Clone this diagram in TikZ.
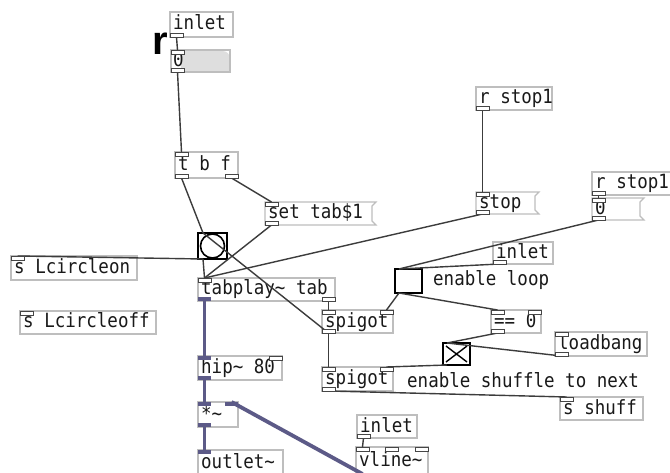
\documentclass[tikz,border=0pt]{standalone}
\usepackage{fontspec}
\newfontfamily\pdmono{DejaVu Sans Mono}
\newfontfamily\pdsans{Liberation Sans}
\usetikzlibrary{calc}
\definecolor{boxgray}{RGB}{190,190,190}
\definecolor{conngray}{RGB}{60,60,60}
\definecolor{sigcol}{RGB}{92,90,135}
\definecolor{nubgray}{RGB}{70,70,70}
\definecolor{numfill}{RGB}{222,222,222}
\newcommand\pdt[1]{\scalebox{1}[1.12]{#1}}
\tikzset{
  boxst/.style={draw=boxgray, line width=1.2pt, inner sep=0pt, outer sep=0pt},
  boxline/.style={draw=boxgray, line width=1.2pt},
  txt/.style={inner sep=0pt, font=\pdmono\fontsize{17.5}{20}\selectfont, text height=11pt, text depth=3pt, text=black!90},
  conn/.style={draw=conngray, line width=1.4pt},
  sig/.style={draw=sigcol, line width=3.8pt},
  nubc/.style={draw=nubgray, fill=white, line width=0.9pt},
  nubs/.style={fill=sigcol},
  tgl/.style={draw=black, line width=2pt, inner sep=0pt, outer sep=0pt},
}
\newcommand\pdbox[6]{%
  \node[boxst, minimum width=#4, minimum height=#5, anchor=north west] (#1) at (#2,#3) {};
  \node[txt, anchor=west] (#1-t) at ($(#1.west)+(3,1.5)$) {\pdt{#6}};}
\newcommand\pdmsg[6]{%
  \node[boxst, draw=none, minimum width=#4, minimum height=#5, anchor=north west] (#1) at (#2,#3) {};
  \draw[boxline] (#1.north west) -- ($(#1.north east)+(4,0)$) -- ($(#1.north east)+(0,4)$) -- ($(#1.south east)+(0,-4)$) -- ($(#1.south east)+(4,0)$) -- (#1.south west) -- cycle;
  \node[txt, anchor=west] (#1-t) at ($(#1.west)+(3,1.5)$) {\pdt{#6}};}
\newcommand\pin[3]{\coordinate (#1) at ($(#2)+(#3,0)$);}
\newcommand\nubI[2][nubc]{\path[#1] ($(#2)+(-6.5,0)$) rectangle ($(#2)+(6.5,4)$);}
\newcommand\nubO[2][nubc]{\path[#1] ($(#2)+(-6.5,-4)$) rectangle ($(#2)+(6.5,0)$);}
\begin{document}
\begin{tikzpicture}[x=1pt,y=-1pt]
\path[use as bounding box] (0,0) rectangle (670,473);
\fill[white] (0,0) rectangle (670,473);
\begin{scope}
\clip (0,0) rectangle (670,473);
% ---------- boxes ----------
\pdbox{A}{170}{12}{63}{25}{inlet}
% number box top
\node[boxst, draw=none, minimum width=59, minimum height=22, anchor=north west] (B) at (171,50) {};
\fill[numfill] (181,51) -- (222,51) .. controls (227,51) and (230,54) .. (230,59) -- (230,72) -- (181,72) -- cycle;
\draw[boxline] (B.north west) -- (B.north east) -- (B.south east) -- (B.south west) -- cycle;
\node[txt, anchor=west] (B-t) at ($(B.west)+(2,1.5)$) {\pdt{0}};
\node[inner sep=0pt, font=\pdsans\bfseries\fontsize{40}{40}\selectfont, anchor=base] (bigr) at (160,55) {r};
\pdbox{C}{175}{152}{63}{26}{t b f}
\pdmsg{D}{265}{202}{107}{23}{set tab\$1}
\pdbox{E}{476}{87}{76}{23}{r stop1}
\pdmsg{F}{476}{192}{59}{22}{stop}
\pdbox{G}{592}{172}{80}{23}{r stop1}
\pdmsg{H}{592}{198}{48}{22}{0}
\node[tgl, minimum width=29, minimum height=26, anchor=north west] (I) at (198,233) {};
\draw[black, line width=1.6pt] (I.center) circle [radius=12];
\pdbox{J}{11}{256}{126}{24}{s Lcircleon}
\pdbox{K}{198}{278}{137}{23}{tabplay\textasciitilde{} tab}
\pdbox{L}{20}{311}{136}{23}{s Lcircleoff}
\pdbox{M}{493}{242}{60}{22}{inlet}
\node[tgl, minimum width=27, minimum height=24, anchor=north west] (N) at (395,269) {};
\node[txt, anchor=west] (cmtloop) at (433,282) {\pdt{enable loop}};
\pdbox{P}{322}{310}{71}{23}{spigot}
\pdbox{Q}{491}{310}{50}{23}{== 0}
\node[tgl, minimum width=27, minimum height=22, anchor=north west] (R) at (443,343) {};
\draw[black, line width=1.4pt] ($(R.north west)+(3,3)$) -- ($(R.south east)+(-3,-3)$)
  ($(R.north east)+(-3,3)$) -- ($(R.south west)+(3,-3)$);
\pdbox{S}{555}{332}{92}{24}{loadbang}
\pdbox{T}{198}{356}{84}{24}{hip\textasciitilde{} 80}
\pdbox{U}{322}{367}{71}{24}{spigot}
\node[txt, anchor=west] (cmtshuf) at (407,383) {\pdt{enable shuffle to next}};
\pdbox{W}{560}{397}{83}{23}{s shuff}
\pdbox{X}{198}{402}{40}{25}{*\textasciitilde}
\pdbox{Y}{357}{415}{60}{23}{inlet}
\pdbox{Z}{198}{450}{85}{25}{outlet\textasciitilde}
\pdbox{AA}{356}{447}{72}{27}{vline\textasciitilde}
% ---------- ports ----------
\pin{A-o0}{A.south west}{6.5}
\pin{B-i0}{B.north west}{6.5}\pin{B-o0}{B.south west}{6.5}
\pin{C-i0}{C.north west}{6.5}\pin{C-o0}{C.south west}{6.5}\pin{C-o1}{C.south east}{-6.5}
\pin{D-i0}{D.north west}{6.5}\pin{D-o0}{D.south west}{6.5}
\pin{E-o0}{E.south west}{6.5}
\pin{F-i0}{F.north west}{6.5}\pin{F-o0}{F.south west}{6.5}
\pin{G-o0}{G.south west}{6.5}
\pin{H-i0}{H.north west}{6.5}\pin{H-o0}{H.south west}{6.5}
\pin{I-i0}{I.north west}{5}\pin{I-o0}{I.south west}{5}
\pin{J-i0}{J.north west}{6.5}
\pin{K-i0}{K.north west}{6.5}\pin{K-o0}{K.south west}{6.5}\pin{K-o1}{K.south east}{-6.5}
\pin{L-i0}{L.north west}{6.5}
\pin{M-o0}{M.south west}{6.5}
\pin{N-i0}{N.north west}{4}\pin{N-o0}{N.south west}{4}
\pin{P-i0}{P.north west}{6.5}\pin{P-i1}{P.north east}{-6.5}\pin{P-o0}{P.south west}{6.5}
\pin{Q-i0}{Q.north west}{6.5}\pin{Q-i1}{Q.north east}{-6.5}\pin{Q-o0}{Q.south west}{6.5}
\pin{R-i0}{R.north west}{4}\pin{R-o0}{R.south west}{4}
\pin{S-i0}{S.north west}{6.5}\pin{S-o0}{S.south west}{6.5}
\pin{T-i0}{T.north west}{6.5}\pin{T-i1}{T.north east}{-6.5}\pin{T-o0}{T.south west}{6.5}
\pin{U-i0}{U.north west}{6.5}\pin{U-i1}{U.north east}{-6.5}\pin{U-o0}{U.south west}{6.5}
\pin{W-i0}{W.north west}{6.5}
\pin{X-i0}{X.north west}{6.5}\pin{X-i1}{X.north east}{-6.5}\pin{X-o0}{X.south west}{6.5}
\pin{Y-o0}{Y.south west}{6.5}
\pin{Z-i0}{Z.north west}{6.5}
\pin{AA-i0}{AA.north west}{6.5}\pin{AA-i1}{AA.north}{0}\pin{AA-i2}{AA.north east}{-6.5}\pin{AA-o0}{AA.south west}{6.5}
% ---------- connections ----------
\draw[conn] (A-o0) -- (B-i0);
\draw[conn] (B-o0) -- (C-i0);
\draw[conn] (C-o0) -- (I-i0);
\draw[conn] (C-o1) -- (D-i0);
\draw[conn] (E-o0) -- (F-i0);
\draw[conn] (G-o0) -- (H-i0);
\draw[conn] (I-o0) -- (K-i0);
\draw[conn] (I-o0) -- (J-i0);
\draw[conn] (D-o0) -- (K-i0);
\draw[conn] (F-o0) -- (K-i0);
\draw[conn] (H-o0) -- (N-i0);
\draw[conn] (M-o0) -- (N-i0);
\draw[conn] (K-o1) -- (P-i0);
\draw[conn] (P-o0) -- (I-i0);
\draw[conn] (P-o0) -- (U-i0);
\draw[conn] (N-o0) -- (P-i1);
\draw[conn] (N-o0) -- (Q-i0);
\draw[conn] (Q-o0) -- (R-i0);
\draw[conn] (S-o0) -- (R-i0);
\draw[conn] (R-o0) -- (U-i1);
\draw[conn] (U-o0) -- (W-i0);
\draw[conn] (Y-o0) -- (AA-i0);
\draw[sig] (K-o0) -- (T-i0);
\draw[sig] (T-o0) -- (X-i0);
\draw[sig] (X-o0) -- (Z-i0);
\draw[sig] (AA-o0) -- (X-i1);
% ---------- nubs ----------
\nubO{A-o0}
\nubI{B-i0}\nubO{B-o0}
\nubI{C-i0}\nubO{C-o0}\nubO{C-o1}
\nubI{D-i0}\nubO{D-o0}
\nubO{E-o0}
\nubI{F-i0}\nubO{F-o0}
\nubO{G-o0}
\nubI{H-i0}\nubO{H-o0}
\nubI{J-i0}
\nubI{K-i0}\nubO[nubs]{K-o0}\nubO{K-o1}
\nubI{L-i0}
\nubO{M-o0}
\nubI{P-i0}\nubI{P-i1}\nubO{P-o0}
\nubI{Q-i0}\nubI{Q-i1}\nubO{Q-o0}
\nubI{S-i0}\nubO{S-o0}
\nubI[nubs]{T-i0}\nubI{T-i1}\nubO[nubs]{T-o0}
\nubI{U-i0}\nubI{U-i1}\nubO{U-o0}
\nubI{W-i0}
\nubI[nubs]{X-i0}\nubI[nubs]{X-i1}\nubO[nubs]{X-o0}
\nubO{Y-o0}
\nubI[nubs]{Z-i0}
\nubI{AA-i0}\nubI{AA-i1}\nubI{AA-i2}
\end{scope}
\end{tikzpicture}
\end{document}
